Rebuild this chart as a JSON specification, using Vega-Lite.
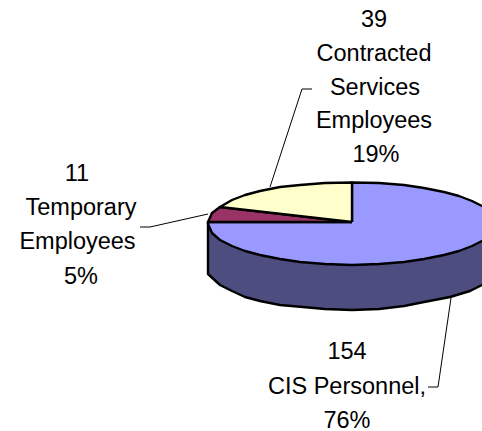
{"$schema":"https://vega.github.io/schema/vega-lite/v6.json","width":482,"height":431,"padding":0,"autosize":{"type":"none"},"background":"white","config":{"view":{"stroke":null}},
"datasets":{
"shapes":[
{"part":"side","i":1,"x":208,"y":222},{"part":"side","i":2,"x":208,"y":274},{"part":"side","i":3,"x":220,"y":285},{"part":"side","i":4,"x":232,"y":291},{"part":"side","i":5,"x":245,"y":297},{"part":"side","i":6,"x":260,"y":301},{"part":"side","i":7,"x":280,"y":305},{"part":"side","i":8,"x":303,"y":307},{"part":"side","i":9,"x":325,"y":309},{"part":"side","i":10,"x":352,"y":310},{"part":"side","i":11,"x":379,"y":309},{"part":"side","i":12,"x":404,"y":306},{"part":"side","i":13,"x":424,"y":302},{"part":"side","i":14,"x":450,"y":297},{"part":"side","i":15,"x":470,"y":291},{"part":"side","i":16,"x":484,"y":284},{"part":"side","i":17,"x":496,"y":270},{"part":"side","i":18,"x":496,"y":224},{"part":"side","i":19,"x":352,"y":224},{"part":"side","i":20,"x":208,"y":222},
{"part":"CIS Personnel","i":1,"x":352,"y":222},{"part":"CIS Personnel","i":2,"x":352,"y":182.5},{"part":"CIS Personnel","i":3,"x":379,"y":183},{"part":"CIS Personnel","i":4,"x":404,"y":185},{"part":"CIS Personnel","i":5,"x":424,"y":188},{"part":"CIS Personnel","i":6,"x":444,"y":192},{"part":"CIS Personnel","i":7,"x":459,"y":196},{"part":"CIS Personnel","i":8,"x":472,"y":201},{"part":"CIS Personnel","i":9,"x":484,"y":207},{"part":"CIS Personnel","i":10,"x":496,"y":224},{"part":"CIS Personnel","i":11,"x":484,"y":240},{"part":"CIS Personnel","i":12,"x":472,"y":246},{"part":"CIS Personnel","i":13,"x":459,"y":251},{"part":"CIS Personnel","i":14,"x":444,"y":255},{"part":"CIS Personnel","i":15,"x":424,"y":259},{"part":"CIS Personnel","i":16,"x":404,"y":262},{"part":"CIS Personnel","i":17,"x":379,"y":264},{"part":"CIS Personnel","i":18,"x":352,"y":265},{"part":"CIS Personnel","i":19,"x":325,"y":264},{"part":"CIS Personnel","i":20,"x":300,"y":262},{"part":"CIS Personnel","i":21,"x":280,"y":259},{"part":"CIS Personnel","i":22,"x":260,"y":255},{"part":"CIS Personnel","i":23,"x":245,"y":251},{"part":"CIS Personnel","i":24,"x":232,"y":246},{"part":"CIS Personnel","i":25,"x":220,"y":240},{"part":"CIS Personnel","i":26,"x":212,"y":233},{"part":"CIS Personnel","i":27,"x":208,"y":224},{"part":"CIS Personnel","i":28,"x":208,"y":222},{"part":"CIS Personnel","i":29,"x":352,"y":222},
{"part":"Temporary Employees","i":1,"x":352,"y":222},{"part":"Temporary Employees","i":2,"x":220,"y":207},{"part":"Temporary Employees","i":3,"x":212,"y":213},{"part":"Temporary Employees","i":4,"x":208,"y":222},{"part":"Temporary Employees","i":5,"x":352,"y":222},
{"part":"Contracted Services Employees","i":1,"x":352,"y":222},{"part":"Contracted Services Employees","i":2,"x":352,"y":182.5},{"part":"Contracted Services Employees","i":3,"x":325,"y":183},{"part":"Contracted Services Employees","i":4,"x":300,"y":185},{"part":"Contracted Services Employees","i":5,"x":280,"y":187},{"part":"Contracted Services Employees","i":6,"x":260,"y":191},{"part":"Contracted Services Employees","i":7,"x":245,"y":195},{"part":"Contracted Services Employees","i":8,"x":232,"y":200},{"part":"Contracted Services Employees","i":9,"x":220,"y":207},{"part":"Contracted Services Employees","i":10,"x":352,"y":222}
],
"leaders":[
{"k":"a","i":1,"x":270,"y":187},{"k":"a","i":2,"x":302,"y":89},{"k":"a","i":3,"x":312,"y":89},
{"k":"b","i":1,"x":208,"y":214},{"k":"b","i":2,"x":150,"y":227},{"k":"b","i":3,"x":140,"y":227},
{"k":"c","i":1,"x":451,"y":298},{"k":"c","i":2,"x":438,"y":387},{"k":"c","i":3,"x":428,"y":387}
],
"labels":[
{"t":"39","x":374,"y":20},{"t":"Contracted","x":374,"y":54},{"t":"Services","x":375,"y":88},{"t":"Employees","x":374,"y":121},{"t":"19%","x":376,"y":155},
{"t":"11","x":77,"y":174},{"t":"Temporary","x":81,"y":208},{"t":"Employees","x":77.5,"y":242},{"t":"5%","x":81,"y":277},
{"t":"154","x":347,"y":352},{"t":"CIS Personnel,","x":347,"y":387},{"t":"76%","x":347,"y":421}
]},
"layer":[
{"data":{"name":"shapes"},"mark":{"type":"line","strokeWidth":2.4,"stroke":"black","strokeJoin":"round","clip":true},
"encoding":{"x":{"field":"x","type":"quantitative","scale":{"domain":[0,482]},"axis":null},"y":{"field":"y","type":"quantitative","scale":{"domain":[431,0]},"axis":null},"order":{"field":"i","type":"quantitative"},
"fill":{"field":"part","type":"nominal","legend":null,"sort":null,"scale":{"domain":["side","CIS Personnel","Temporary Employees","Contracted Services Employees"],"range":["#4d4d80","#9999ff","#993366","#ffffcc"]}}}},
{"data":{"name":"leaders"},"mark":{"type":"line","strokeWidth":1,"color":"black"},
"encoding":{"x":{"field":"x","type":"quantitative","scale":{"domain":[0,482]},"axis":null},"y":{"field":"y","type":"quantitative","scale":{"domain":[431,0]},"axis":null},"order":{"field":"i","type":"quantitative"},"detail":{"field":"k"}}},
{"data":{"name":"labels"},"mark":{"type":"text","font":"Liberation Sans","fontSize":23.5,"color":"black","align":"center","baseline":"middle"},
"encoding":{"x":{"field":"x","type":"quantitative","scale":{"domain":[0,482]},"axis":null},"y":{"field":"y","type":"quantitative","scale":{"domain":[431,0]},"axis":null},"text":{"field":"t"}}}
]}
